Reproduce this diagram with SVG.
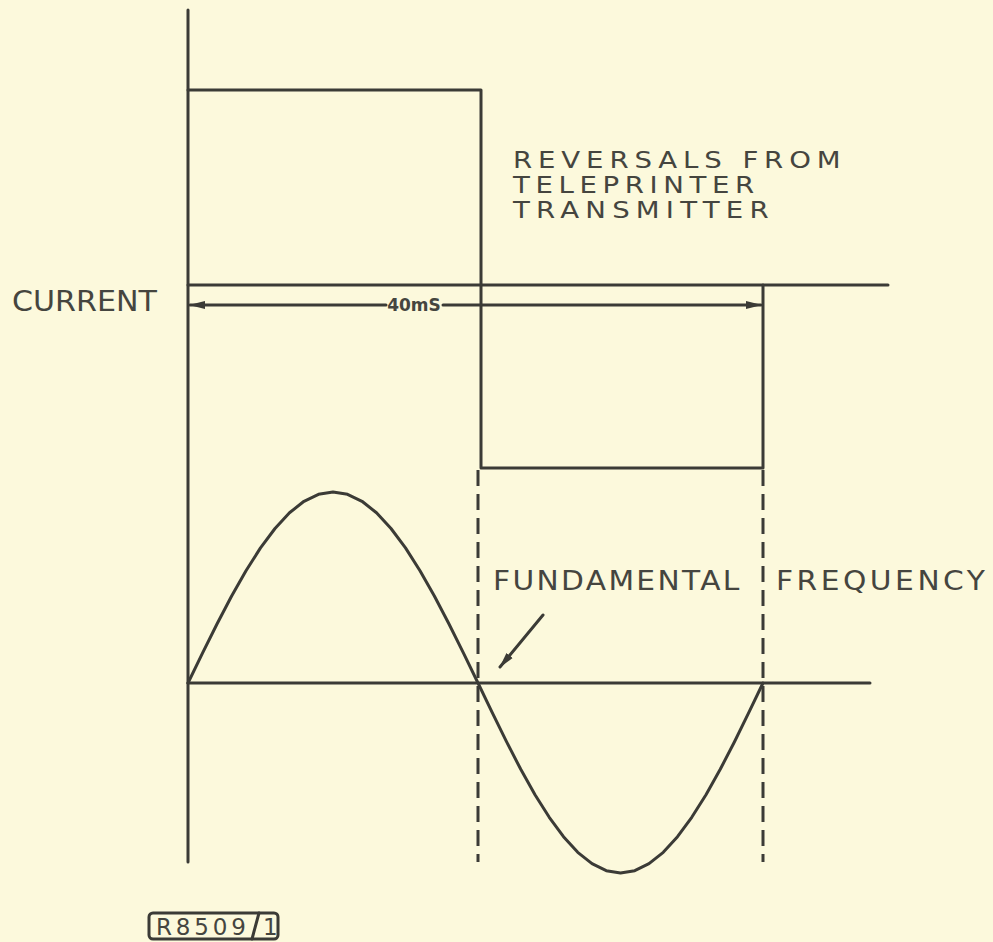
<svg xmlns="http://www.w3.org/2000/svg" width="993" height="942" viewBox="0 0 993 942">
<defs>
<style>
.ln{stroke:#3b3b36;stroke-width:3;fill:none;stroke-linecap:round;stroke-linejoin:round}
.dash{stroke:#3b3b36;stroke-width:3;fill:none;stroke-dasharray:16 8}
.t{font-family:"DejaVu Sans","Liberation Sans",Arial,sans-serif;fill:#45453f}
</style>
<marker id="ah" viewBox="0 0 16 10" refX="15" refY="5" markerWidth="16" markerHeight="10" markerUnits="userSpaceOnUse" orient="auto-start-reverse">
<path d="M0,1 L16,5 L0,9 Z" fill="#3b3b36"/>
</marker>
</defs>
<rect width="993" height="942" fill="#fcf9dc"/>
<g id="axes">
<line class="ln" x1="188" y1="10" x2="188" y2="862"/>
<line class="ln" x1="188" y1="285" x2="888" y2="285"/>
<line class="ln" x1="188" y1="683" x2="870" y2="683"/>
</g>
<g id="square-wave">
<polyline class="ln" points="188,90 481,90 481,468 763,468 763,285"/>
</g>
<g id="sine-wave">
<polyline class="ln" points="188,683 202.5,653.1 217,624 231.5,596.3 246,570.7 260.5,547.9 275,528.5 289.5,512.8 304,501.3 318.5,494.3 333,492 347.5,494.3 362,501.3 376.5,512.8 391,528.5 405.5,547.9 420,570.7 434.5,596.3 449,624 463.5,653.1 478,683 492.25,712.7 506.5,741.7 520.75,769.3 535,794.7 549.25,817.3 563.5,836.7 577.75,852.3 592,863.7 606.25,870.7 620.5,873 634.75,870.7 649,863.7 663.25,852.3 677.5,836.7 691.75,817.3 706,794.7 720.25,769.3 734.5,741.7 748.75,712.7 763,683"/>
</g>
<g id="connectors">
<line class="dash" x1="478" y1="470" x2="478" y2="862"/>
<line class="dash" x1="763" y1="470" x2="763" y2="862"/>
<line class="ln" x1="190" y1="305" x2="386" y2="305" marker-start="url(#ah)"/>
<line class="ln" x1="443" y1="305" x2="761" y2="305" marker-end="url(#ah)"/>
<line class="ln" x1="543" y1="615" x2="500" y2="667" marker-end="url(#ah)"/>
</g>
<g id="labels">
<text class="t" x="12" y="311" font-size="28" textLength="145" lengthAdjust="spacingAndGlyphs">CURRENT</text>
<text class="t" x="414" y="311" font-size="17" font-weight="bold" text-anchor="middle">40mS</text>
<text class="t" transform="translate(513,168) scale(1.2,1)" font-size="23" textLength="273" lengthAdjust="spacing">REVERSALS FROM</text>
<text class="t" transform="translate(513,193) scale(1.2,1)" font-size="23" textLength="201" lengthAdjust="spacing">TELEPRINTER</text>
<text class="t" transform="translate(513,218) scale(1.2,1)" font-size="23" textLength="213" lengthAdjust="spacing">TRANSMITTER</text>
<text class="t" transform="translate(493,590) scale(1.1,1)" font-size="27" textLength="224" lengthAdjust="spacing">FUNDAMENTAL</text>
<text class="t" transform="translate(776,590) scale(1.1,1)" font-size="27" textLength="190" lengthAdjust="spacing">FREQUENCY</text>
</g>
<g id="ref-tag">
<rect x="149" y="913" width="129" height="26" rx="4" class="ln" stroke-width="2.5"/>
<line class="ln" x1="252" y1="939" x2="259" y2="913" stroke-width="2.5"/>
<text class="t" x="156" y="935" font-size="23" textLength="90" lengthAdjust="spacing">R8509</text>
<text class="t" x="263" y="935" font-size="23">1</text>
</g>
</svg>
